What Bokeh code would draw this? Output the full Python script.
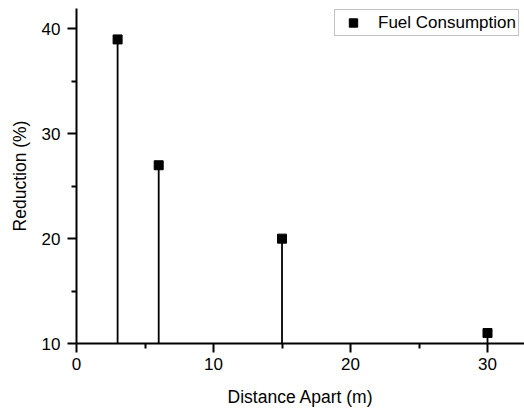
from bokeh.plotting import figure
from bokeh.models import Range1d, FixedTicker
from bokeh.embed import file_html
from bokeh.resources import INLINE

# Data
distance = [3, 6, 15, 30]
reduction = [39, 27, 20, 11]
baseline = [10, 10, 10, 10]
x_ticks = [0, 10, 20, 30]
x_minor = [5, 15, 25]
y_ticks = [10, 20, 30, 40]
y_minor = [15, 25, 35]

FONT = "Liberation Sans"

p = figure(width=524, height=412, output_backend="svg", toolbar_location=None,
           x_range=Range1d(0, 32.7), y_range=Range1d(10, 41.95),
           min_border_left=76, min_border_right=0, min_border_top=8, min_border_bottom=69)
p.outline_line_color = None
p.xgrid.visible = False
p.ygrid.visible = False
p.background_fill_color = "white"
p.border_fill_color = "white"

p.segment(x0=distance, y0=baseline, x1=distance, y1=reduction,
          line_color="black", line_width=1.8)
p.scatter(distance, reduction, marker="square", size=9, fill_color="black",
          line_color="black", legend_label="Fuel Consumption")

for ax, ticks, minor in ((p.xaxis[0], x_ticks, x_minor), (p.yaxis[0], y_ticks, y_minor)):
    ax.ticker = FixedTicker(ticks=ticks, minor_ticks=minor)
    ax.axis_line_width = 2
    ax.axis_line_color = "black"
    ax.major_tick_line_width = 2
    ax.minor_tick_line_width = 2
    ax.major_tick_line_color = "black"
    ax.minor_tick_line_color = "black"
    ax.major_tick_in = 0
    ax.major_tick_out = 9
    ax.minor_tick_in = 0
    ax.minor_tick_out = 5
    ax.major_label_text_font = FONT
    ax.major_label_text_font_size = "17px"
    ax.major_label_text_color = "black"
    ax.axis_label_text_font = FONT
    ax.axis_label_text_font_size = "17.5px"
    ax.axis_label_text_font_style = "normal"
    ax.axis_label_text_color = "black"

p.xaxis.axis_label = "Distance Apart (m)"
p.yaxis.axis_label = "Reduction (%)"
p.xaxis.major_label_standoff = 5
p.xaxis.axis_label_standoff = 14
p.yaxis.major_label_standoff = 7
p.yaxis.axis_label_standoff = 9

lg = p.legend[0]
lg.location = (258, 307)
lg.margin = 0
lg.padding = 2
lg.glyph_width = 32
lg.glyph_height = 21
lg.label_standoff = 9
lg.label_text_font = FONT
lg.label_text_font_size = "17px"
lg.label_text_color = "black"
lg.border_line_color = "#888888"
lg.border_line_width = 1
lg.background_fill_alpha = 1.0

open("out.html", "w").write(file_html(p, INLINE))
